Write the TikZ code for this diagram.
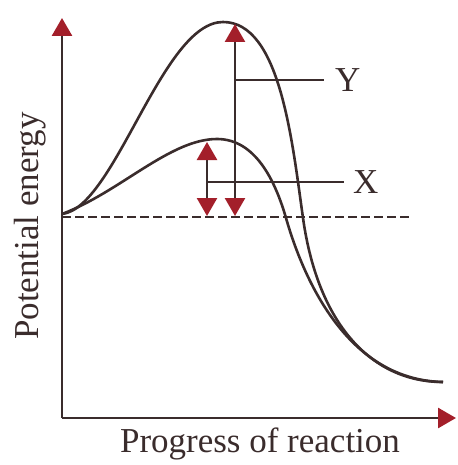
\documentclass[tikz,border=0pt]{standalone}
\usepackage{fontspec}
\setmainfont{Liberation Serif}
\usetikzlibrary{arrows.meta}
\definecolor{ink}{HTML}{3A2C2C}
\definecolor{redarrow}{HTML}{A31F2A}
\tikzset{
  curve/.style={draw=ink, line width=2.6pt},
  axis/.style={draw=ink, line width=2.8pt, -{Triangle[width=20pt,length=18pt,color=redarrow]}},
  level/.style={draw=ink, line width=2.5pt},
  dbl/.style={draw=ink, line width=2.5pt, {Triangle[width=20pt,length=18pt,color=redarrow]}-{Triangle[width=20pt,length=18pt,color=redarrow]}},
  dashline/.style={draw=ink, line width=2.4pt, dash pattern=on 9pt off 4pt},
  lbl/.style={font=\fontsize{35}{39}\selectfont, text=ink, inner sep=0pt}
}
\begin{document}
\begin{tikzpicture}[x=1pt,y=-1pt]
\useasboundingbox (0,0) rectangle (457,465);
% axes
\coordinate (O) at (62,418);
\coordinate (ytop) at (62,18);
\coordinate (xend) at (456,418);
\draw[axis] (O) -- (ytop);
\draw[axis] (O) -- (xend);
% dashed base line
\coordinate (d0) at (62,217);
\coordinate (d1) at (412,217);
\draw[dashline] (d0) -- (d1);
% upper curve (Y)
\coordinate (s) at (62,214);
\coordinate (e) at (443,382);
\coordinate (py) at (223,22);
\coordinate (cy) at (303,218);
\draw[curve] (s) .. controls (115,208) and (162,22) .. (py)
  .. controls (280,22) and (292,140) .. (cy)
  .. controls (318,325) and (372,382) .. (e);
% lower curve (X)
\coordinate (px) at (217,139);
\coordinate (cx) at (286,218);
\draw[curve] (s) .. controls (120,192) and (170,139) .. (px)
  .. controls (255,139) and (275,180) .. (cx)
  .. controls (300,267) and (342,380) .. (e);
% activation energy arrows
\coordinate (ytopA) at (235,24);
\coordinate (ybotA) at (235,216);
\coordinate (xtopA) at (207,142);
\coordinate (xbotA) at (207,216);
\draw[dbl] (ybotA) -- (ytopA);
\draw[dbl] (xbotA) -- (xtopA);
% label lines
\coordinate (yl) at (235,80);
\coordinate (xl) at (207,182);
\node[lbl, anchor=west] (Y) at (335,80) {Y};
\node[lbl, anchor=west] (X) at (353,182) {X};
\draw[level] (yl) -- (Y.west -| 324,0);
\draw[level] (xl) -- (X.west -| 344,0);
% axis labels
\node[lbl, rotate=90] (ylab) at (30,226) {Potential energy};
\node[lbl] (xlab) at (260,444) {Progress of reaction};
\end{tikzpicture}
\end{document}
